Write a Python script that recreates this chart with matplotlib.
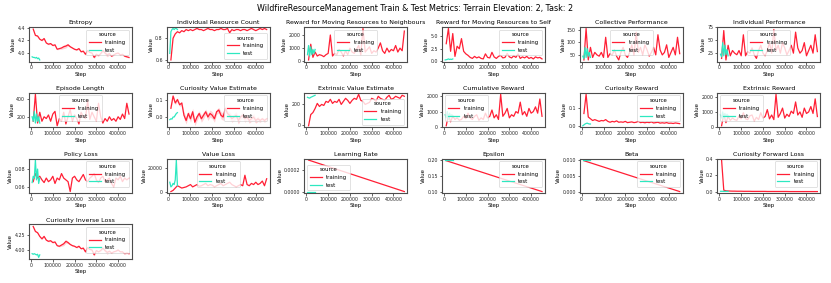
import numpy as np
import matplotlib
matplotlib.use('Agg')
import matplotlib.pyplot as plt

# steps
train_steps = np.arange(10000, 450001, 10000)
test_steps = np.arange(5000, 40001, 5000)
sched_steps = [10000, 450000]

# values
entropy_train = [4.38, 4.28, 4.27, 4.22, 4.20, 4.23, 4.16, 4.14, 4.15, 4.12,
                 4.13, 4.06, 4.07, 4.08, 4.10, 4.11, 4.13, 4.10, 4.08, 4.06,
                 4.05, 4.07, 4.02, 4.03, 3.98, 4.04, 4.01, 4.00, 3.93, 3.98,
                 3.96, 3.99, 4.04, 4.00, 3.97, 3.99, 3.95, 3.97, 3.99, 4.00,
                 3.97, 3.98, 3.95, 3.94, 3.93]
entropy_spread = [0.01, 0.01, 0.01, 0.01, 0.01, 0.01, 0.01, 0.01, 0.01, 0.01,
                  0.01, 0.01, 0.01, 0.02, 0.03, 0.03, 0.02, 0.01, 0.01, 0.01,
                  0.01, 0.01, 0.01, 0.01, 0.02, 0.02, 0.01, 0.01, 0.02, 0.02,
                  0.01, 0.01, 0.02, 0.03, 0.03, 0.02, 0.01, 0.01, 0.01, 0.01,
                  0.01, 0.01, 0.01, 0.01, 0.01]
entropy_test = [3.94, 3.93, 3.93, 3.92, 3.93, 3.91, 3.92, 3.89]

resource_train = [0.60, 0.80, 0.84, 0.86, 0.85, 0.87, 0.86, 0.88, 0.87, 0.88,
                  0.87, 0.88, 0.89, 0.88, 0.88, 0.87, 0.88, 0.89, 0.88, 0.88,
                  0.87, 0.88, 0.88, 0.89, 0.88, 0.88, 0.89, 0.85, 0.88, 0.87,
                  0.88, 0.88, 0.87, 0.88, 0.88, 0.87, 0.88, 0.89, 0.88, 0.87,
                  0.88, 0.89, 0.88, 0.89, 0.88]
resource_test = [0.66, 0.86, 0.88, 0.89, 0.88, 0.89, 0.89, 0.88]

neighbours_train = [100, 1300, 300, 700, 400, 500, 450, 350, 500, 600,
                    2000, 400, 600, 500, 900, 700, 400, 800, 500, 1000,
                    700, 600, 900, 1200, 500, 2500, 700, 900, 1100, 600,
                    800, 700, 1000, 1400, 800, 600, 1000, 700, 900, 800,
                    1200, 700, 1000, 800, 2300]
neighbours_test = [500, 1200, 400, 1100, 500, 900, 600, 900]

self_train = [3.5, 6.5, 2.0, 5.5, 1.0, 3.0, 2.5, 4.5, 2.0, 1.5,
              1.2, 0.8, 0.6, 1.0, 0.7, 0.9, 0.6, 0.5, 1.5, 0.8,
              0.7, 1.8, 0.9, 0.6, 1.0, 1.2, 0.7, 0.8, 1.6, 0.9,
              0.7, 1.1, 0.8, 1.5, 0.6, 0.9, 0.7, 1.0, 0.6, 0.8,
              0.5, 0.9, 0.7, 0.8, 0.5]
self_test = [0.3, 0.35, 0.4, 0.5, 0.4, 0.45, 0.4, 0.5]

collective_train = [30, 155, 30, 80, 40, 60, 50, 45, 60, 40,
                    120, 40, 55, 50, 70, 45, 30, 60, 80, 50,
                    40, 60, 90, 50, 140, 60, 80, 50, 90, 70,
                    45, 60, 80, 50, 130, 70, 50, 60, 90, 40,
                    60, 80, 50, 120, 55]
collective_test = [45, 35, 80, 40, 75, 45, 60, 40]

indiv_perf_train = [15, 68, 12, 40, 20, 30, 25, 22, 30, 20,
                    60, 20, 28, 25, 35, 22, 15, 30, 40, 25,
                    20, 30, 45, 25, 70, 30, 40, 25, 45, 35,
                    22, 30, 40, 25, 65, 35, 25, 30, 45, 20,
                    30, 40, 25, 60, 28]
indiv_perf_test = [23, 18, 45, 20, 40, 22, 32, 20]

episode_train = [150, 450, 130, 250, 150, 200, 180, 220, 150, 230,
                 260, 100, 180, 150, 250, 120, 200, 280, 150, 220,
                 180, 120, 250, 200, 180, 380, 170, 250, 200, 150,
                 350, 200, 130, 180, 150, 200, 160, 180, 150, 200,
                 170, 230, 180, 350, 230]
episode_test = [200, 150, 260, 130, 230, 150, 200, 130]

cve_train = [0.05, 0.12, 0.08, 0.10, 0.07, 0.08, 0.01, -0.02, 0.02, -0.01,
             0.03, -0.03, 0.00, 0.02, -0.01, 0.01, 0.03, 0.00, 0.02, 0.01,
             -0.01, 0.03, 0.04, 0.01, 0.00, 0.05, 0.02, 0.01, -0.01, 0.00,
             0.01, -0.02, 0.00, 0.01, -0.01, 0.00, -0.02, -0.01, 0.00, -0.02,
             -0.01, -0.02, -0.01, -0.02, -0.01]
cve_spread = [0.005, 0.01, 0.01, 0.01, 0.01, 0.01, 0.02, 0.02, 0.015, 0.02,
              0.02, 0.02, 0.02, 0.015, 0.02, 0.02, 0.015, 0.02, 0.02, 0.02,
              0.02, 0.015, 0.015, 0.02, 0.02, 0.015, 0.015, 0.02, 0.02, 0.02,
              0.02, 0.02, 0.015, 0.02, 0.02, 0.015, 0.015, 0.015, 0.02, 0.015,
              0.015, 0.01, 0.01, 0.01, 0.01]
cve_test = [-0.015, -0.01, -0.012, 0.0, 0.0, 0.01, 0.02, 0.025]

eve_train = [-10, 100, 120, 160, 210, 180, 200, 190, 230, 220,
             250, 210, 230, 220, 250, 200, 230, 260, 240, 210,
             240, 260, 250, 300, 240, 230, 200, 210, 220, 260,
             250, 230, 280, 260, 250, 240, 270, 290, 250, 260,
             280, 270, 260, 290, 280]
eve_test = [270, 265, 262, 270, 275, 280, 285, 290]

cum_reward_train = [100, 800, 350, 700, 500, 600, 450, 500, 700, 550,
                    900, 600, 500, 700, 800, 450, 600, 500, 900, 600,
                    700, 1100, 600, 800, 500, 2100, 700, 900, 1200, 600,
                    800, 700, 1000, 900, 1600, 800, 1000, 700, 1200, 900,
                    1000, 1300, 900, 1800, 700]
cum_reward_test = [800, 600, 1000, 500, 900, 700, 800, 750]

cur_reward_train = [0.07, 0.18, 0.05, 0.04, 0.03, 0.035, 0.03, 0.025, 0.03, 0.028,
                    0.035, 0.025, 0.02, 0.025, 0.022, 0.028, 0.02, 0.022, 0.02, 0.025,
                    0.018, 0.02, 0.022, 0.018, 0.02, 0.025, 0.018, 0.02, 0.017, 0.02,
                    0.018, 0.022, 0.016, 0.018, 0.02, 0.015, 0.017, 0.015, 0.018, 0.014,
                    0.015, 0.013, 0.016, 0.014, 0.012]
cur_reward_test = [0.0, 0.005, 0.01, 0.013, 0.015, 0.012, 0.01, 0.01]

ext_reward_train = [100, 850, 300, 700, 450, 600, 500, 450, 750, 550,
                    950, 550, 500, 750, 800, 400, 650, 500, 950, 600,
                    700, 1150, 550, 800, 500, 2150, 650, 900, 1250, 600,
                    850, 700, 1050, 900, 1650, 800, 1000, 650, 1250, 900,
                    1000, 1350, 900, 1850, 700]
ext_reward_test = [800, 600, 1000, 550, 900, 700, 850, 750]

policy_train = [0.066, 0.075, 0.070, 0.072, 0.068, 0.065, 0.070, 0.066, 0.068, 0.072,
                0.064, 0.070, 0.068, 0.075, 0.070, 0.068, 0.066, 0.055, 0.070, 0.072,
                0.068, 0.066, 0.070, 0.074, 0.068, 0.066, 0.070, 0.072, 0.075, 0.068,
                0.065, 0.070, 0.072, 0.066, 0.068, 0.070, 0.064, 0.060, 0.070, 0.068,
                0.072, 0.066, 0.070, 0.068, 0.070]
policy_test = [0.065, 0.072, 0.070, 0.090, 0.068, 0.080, 0.064, 0.070]

value_loss_train = [0, 1000, 3000, 5000, 4000, 3000, 3500, 4000, 5000, 6000,
                    4000, 5000, 6000, 4500, 5000, 6000, 7000, 5000, 6000, 5500,
                    4000, 5000, 6000, 7000, 5000, 6000, 7000, 8000, 6000, 5000,
                    4000, 5000, 6000, 5000, 14000, 6000, 5000, 7000, 6000, 8000,
                    6000, 7000, 9000, 5000, 11000]
value_loss_test = [8000, 4000, 5000, 7000, 6000, 10000, 27000, 5000]

lr_train = [0.000295, 0.0]
lr_test = [0.0, 0.0, 0.0, 0.0, 0.0, 0.0, 0.0, 0.0]

eps_train = [0.198, 0.10]
eps_test = [0.2, 0.2, 0.2, 0.2, 0.2, 0.2, 0.2, 0.2]

beta_train = [0.0098, 0.0]
beta_test = [0.01, 0.01, 0.01, 0.01, 0.01, 0.01, 0.01, 0.01]

cfl_train = [0.38, 0.02, 0.012, 0.010, 0.009, 0.008, 0.008, 0.007, 0.007, 0.007,
             0.006, 0.006, 0.006, 0.006, 0.005, 0.005, 0.005, 0.005, 0.005, 0.005,
             0.005, 0.004, 0.004, 0.004, 0.004, 0.004, 0.004, 0.004, 0.004, 0.004,
             0.004, 0.003, 0.003, 0.003, 0.003, 0.003, 0.003, 0.003, 0.003, 0.003,
             0.003, 0.003, 0.003, 0.003, 0.003]
cfl_test = [0.006, 0.006, 0.006, 0.005, 0.005, 0.005, 0.005, 0.005]

cil_train = [4.38, 4.30, 4.28, 4.22, 4.18, 4.22, 4.16, 4.14, 4.15, 4.12,
             4.13, 4.07, 4.06, 4.08, 4.10, 4.14, 4.12, 4.09, 4.07, 4.06,
             4.04, 4.06, 4.02, 4.03, 3.97, 4.04, 4.01, 4.00, 3.92, 3.99,
             3.97, 3.99, 4.03, 3.99, 3.96, 3.98, 3.95, 3.97, 3.98, 4.00,
             3.97, 3.97, 3.94, 3.95, 3.94]
cil_test = [3.94, 3.93, 3.94, 3.93, 3.92, 3.93, 3.88, 3.92]

# title, train x, train y, test y, legend loc, yticks, tick format, band
panels = [
    ("Entropy", train_steps, entropy_train, entropy_test, "upper right", [4.0, 4.2, 4.4], "%.1f", entropy_spread),
    ("Individual Resource Count", train_steps, resource_train, resource_test, "lower right", [0.6, 0.8], "%.1f", None),
    ("Reward for Moving Resources to Neighbours", train_steps, neighbours_train, neighbours_test, "upper center", [0, 1000, 2000], "%d", None),
    ("Reward for Moving Resources to Self", train_steps, self_train, self_test, "upper right", [0.0, 2.5, 5.0], "%.1f", None),
    ("Collective Performance", train_steps, collective_train, collective_test, "upper center", [50, 100, 150], "%d", None),
    ("Individual Performance", train_steps, indiv_perf_train, indiv_perf_test, "upper center", [25, 50, 75], "%d", None),
    ("Episode Length", train_steps, episode_train, episode_test, "upper center", [200, 400], "%d", None),
    ("Curiosity Value Estimate", train_steps, cve_train, cve_test, "upper right", [0.0, 0.1], "%.1f", cve_spread),
    ("Extrinsic Value Estimate", train_steps, eve_train, eve_test, "lower right", [0, 200], "%d", None),
    ("Cumulative Reward", train_steps, cum_reward_train, cum_reward_test, "upper left", [0, 1000, 2000], "%d", None),
    ("Curiosity Reward", train_steps, cur_reward_train, cur_reward_test, "upper right", [0.0, 0.1], "%.1f", None),
    ("Extrinsic Reward", train_steps, ext_reward_train, ext_reward_test, "upper left", [0, 1000, 2000], "%d", None),
    ("Policy Loss", train_steps, policy_train, policy_test, "upper right", [0.06, 0.08], "%.2f", None),
    ("Value Loss", train_steps, value_loss_train, value_loss_test, "upper center", [0, 20000], "%d", None),
    ("Learning Rate", sched_steps, lr_train, lr_test, "lower left", [0.0, 0.0002], "%.4f", None),
    ("Epsilon", sched_steps, eps_train, eps_test, "upper right", [0.10, 0.15, 0.20], "%.2f", None),
    ("Beta", sched_steps, beta_train, beta_test, "upper right", [0.0, 0.005, 0.010], "%.3f", None),
    ("Curiosity Forward Loss", train_steps, cfl_train, cfl_test, "upper right", [0.0, 0.2, 0.4], "%.1f", None),
    ("Curiosity Inverse Loss", train_steps, cil_train, cil_test, "upper right", [4.00, 4.25], "%.2f", entropy_spread),
]

train_color = '#ff1f35'
test_color = '#2de8c0'
tick_fs = 3.4
fs = 3.9

fig, axes = plt.subplots(4, 6, figsize=(8.31, 2.83), dpi=100)
fig.subplots_adjust(left=0.035, right=0.987, top=0.905, bottom=0.085,
                    wspace=0.34, hspace=0.9)

for ax, (title, xs, ytr, yte, loc, yt, fmt, band) in zip(axes.flat, panels):
    if band is not None:
        lo = np.array(ytr) - np.array(band)
        hi = np.array(ytr) + np.array(band)
        ax.fill_between(xs, lo, hi, color=train_color, alpha=0.2, lw=0)
    ax.plot(xs, ytr, color=train_color, lw=0.9, label='training')
    ax.plot(test_steps, yte, color=test_color, lw=0.9, label='test')
    ax.set_xlim(-9000, 463000)
    ax.set_title(title, fontsize=4.5, pad=2)
    ax.set_xlabel('Step', fontsize=fs, labelpad=1)
    ax.set_ylabel('Value', fontsize=fs, labelpad=1)
    ax.set_xticks([0, 100000, 200000, 300000, 400000])
    ax.set_xticklabels(['0', '100000', '200000', '300000', '400000'])
    ax.set_yticks(yt)
    ax.set_yticklabels([fmt % v for v in yt])
    ax.tick_params(labelsize=tick_fs, length=1.8, width=0.5, pad=1, colors='0.15')
    for s in ax.spines.values():
        s.set_linewidth(0.8)
        s.set_color('0.3')
    leg = ax.legend(title='source', loc=loc, fontsize=fs, title_fontsize=fs,
                    handlelength=2.2, borderpad=0.5, labelspacing=0.5)
    leg.get_frame().set_linewidth(0.5)

for ax in axes.flat[len(panels):]:
    ax.axis('off')

fig.suptitle('WildfireResourceManagement Train & Test Metrics: Terrain Elevation: 2, Task: 2',
             fontsize=5.8, y=0.985)

fig.savefig('out.png', dpi=100)
